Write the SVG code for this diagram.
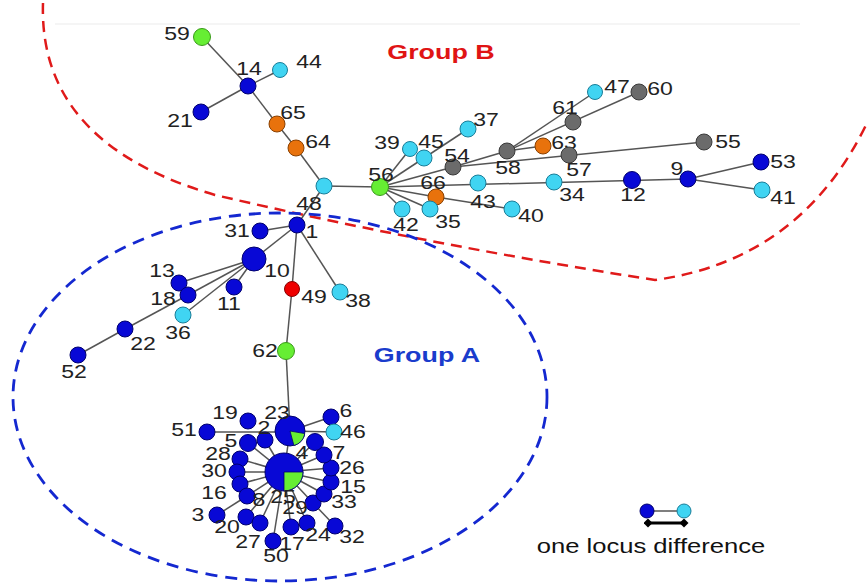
<svg xmlns="http://www.w3.org/2000/svg" width="867" height="586" viewBox="0 0 867 586">
<style>
.e{stroke:#555;stroke-width:1.5;fill:none}
.b{fill:#0808d6;stroke:#00006e;stroke-width:1}
.c{fill:#40d4f2;stroke:#1a7d98;stroke-width:1}
.g{fill:#6b6b6b;stroke:#3a3a3a;stroke-width:1}
.o{fill:#e8720c;stroke:#8a4000;stroke-width:1}
.gr{fill:#66ee33;stroke:#3a9a1a;stroke-width:1}
.r{fill:#ee0000;stroke:#880000;stroke-width:1}
.gw{fill:#66ee33;stroke:#00006e;stroke-width:0.8}
text{font-family:"Liberation Sans",Arial,sans-serif;text-anchor:middle;transform-box:fill-box;transform-origin:center;transform:scaleX(1.28)}
.l{font-size:18px;fill:#222}
.grp{font-size:21px;font-weight:bold}
.lg{font-size:20px;fill:#111}
</style>
<defs>
<marker id="dm" viewBox="0 0 10 10" refX="5" refY="5" markerWidth="3" markerHeight="3" orient="auto"><path d="M0,5 L5,0 L10,5 L5,10 Z" fill="#000"/></marker>
</defs>
<rect width="867" height="586" fill="#fff"/>
<line x1="55" y1="24" x2="800" y2="24" stroke="#f2f2f2" stroke-width="1.5"/>
<g id="groups">
<path d="M43,3 C40,95 95,160 215,195 Q430,245 655,280 Q800,260 866,125" fill="none" stroke="#e01a1a" stroke-width="2.5" stroke-dasharray="11,7"/>
<ellipse cx="280" cy="397" rx="267" ry="184" fill="none" stroke="#1428d0" stroke-width="2.8" stroke-dasharray="12,8"/>
</g>
<g id="connectors">
<line class="e" x1="202" y1="37" x2="248" y2="86"/>
<line class="e" x1="248" y1="86" x2="280" y2="70"/>
<line class="e" x1="248" y1="86" x2="201" y2="112"/>
<line class="e" x1="248" y1="86" x2="277" y2="124"/>
<line class="e" x1="277" y1="124" x2="296" y2="148"/>
<line class="e" x1="296" y1="148" x2="324" y2="186"/>
<line class="e" x1="324" y1="186" x2="380" y2="187"/>
<line class="e" x1="324" y1="186" x2="297" y2="225"/>
<line class="e" x1="380" y1="187" x2="410" y2="149"/>
<line class="e" x1="380" y1="187" x2="468" y2="129"/>
<line class="e" x1="380" y1="187" x2="453" y2="167"/>
<line class="e" x1="453" y1="167" x2="507" y2="151"/>
<line class="e" x1="507" y1="151" x2="595" y2="92"/>
<line class="e" x1="507" y1="151" x2="639" y2="92"/>
<line class="e" x1="507" y1="151" x2="543" y2="146"/>
<line class="e" x1="453" y1="167" x2="704" y2="142"/>
<line class="e" x1="380" y1="187" x2="688" y2="179"/>
<line class="e" x1="688" y1="179" x2="761" y2="162"/>
<line class="e" x1="688" y1="179" x2="762" y2="190"/>
<line class="e" x1="380" y1="187" x2="436" y2="197"/>
<line class="e" x1="436" y1="197" x2="512" y2="209"/>
<line class="e" x1="380" y1="187" x2="430" y2="209"/>
<line class="e" x1="380" y1="187" x2="402" y2="209"/>
<line class="e" x1="297" y1="225" x2="260" y2="231"/>
<line class="e" x1="297" y1="225" x2="254" y2="259"/>
<line class="e" x1="297" y1="225" x2="340" y2="292"/>
<line class="e" x1="297" y1="225" x2="292" y2="289" stroke-width="2"/>
<line class="e" x1="292" y1="289" x2="286" y2="351" stroke-width="2"/>
<line class="e" x1="286" y1="351" x2="290" y2="431"/>
<line class="e" x1="254" y1="259" x2="179" y2="283"/>
<line class="e" x1="254" y1="259" x2="188" y2="295"/>
<line class="e" x1="254" y1="259" x2="234" y2="287"/>
<line class="e" x1="254" y1="259" x2="183" y2="315"/>
<line class="e" x1="188" y1="295" x2="125" y2="329"/>
<line class="e" x1="125" y1="329" x2="78" y2="355"/>
<line class="e" x1="207" y1="432" x2="290" y2="432"/>
<line class="e" x1="290" y1="431" x2="331" y2="417"/>
<line class="e" x1="290" y1="431" x2="334" y2="432"/>
<line class="e" x1="290" y1="431" x2="284" y2="472"/>
<line class="e" x1="284" y1="472" x2="265" y2="440"/>
<line class="e" x1="284" y1="472" x2="248" y2="443"/>
<line class="e" x1="284" y1="472" x2="240" y2="459"/>
<line class="e" x1="284" y1="472" x2="237" y2="472"/>
<line class="e" x1="284" y1="472" x2="240" y2="484"/>
<line class="e" x1="284" y1="472" x2="247" y2="496"/>
<line class="e" x1="284" y1="472" x2="246" y2="517"/>
<line class="e" x1="284" y1="472" x2="260" y2="523"/>
<line class="e" x1="284" y1="472" x2="273" y2="541"/>
<line class="e" x1="284" y1="472" x2="291" y2="527"/>
<line class="e" x1="284" y1="472" x2="307" y2="523"/>
<line class="e" x1="284" y1="472" x2="313" y2="503"/>
<line class="e" x1="284" y1="472" x2="324" y2="494"/>
<line class="e" x1="284" y1="472" x2="331" y2="482"/>
<line class="e" x1="284" y1="472" x2="331" y2="468"/>
<line class="e" x1="284" y1="472" x2="324" y2="455"/>
<line class="e" x1="284" y1="472" x2="315" y2="442"/>
<line class="e" x1="217" y1="515" x2="247" y2="496"/>
<line class="e" x1="335" y1="526" x2="313" y2="503"/>
</g>
<g id="n59"><circle class="gr" cx="202" cy="37" r="8.5"/><text class="l" x="177" y="40">59</text></g>
<g id="n14"><circle class="b" cx="248" cy="86" r="8"/><text class="l" x="249" y="75">14</text></g>
<g id="n44"><circle class="c" cx="280" cy="70" r="7.5"/><text class="l" x="309" y="68">44</text></g>
<g id="n21"><circle class="b" cx="201" cy="112" r="8"/><text class="l" x="180" y="127">21</text></g>
<g id="n65"><circle class="o" cx="277" cy="124" r="8"/><text class="l" x="293" y="119">65</text></g>
<g id="n64"><circle class="o" cx="296" cy="148" r="8"/><text class="l" x="318" y="148">64</text></g>
<g id="n48"><circle class="c" cx="324" cy="186" r="8"/><text class="l" x="309" y="210">48</text></g>
<g id="n56"><circle class="gr" cx="380" cy="187" r="8.5"/><text class="l" x="381" y="181">56</text></g>
<g id="n39"><circle class="c" cx="410" cy="149" r="7.5"/><text class="l" x="387" y="149">39</text></g>
<g id="n45"><circle class="c" cx="424" cy="158" r="8"/><text class="l" x="431" y="148">45</text></g>
<g id="n37"><circle class="c" cx="468" cy="129" r="8"/><text class="l" x="486" y="126">37</text></g>
<g id="n54"><circle class="g" cx="453" cy="167" r="8"/><text class="l" x="457" y="162">54</text></g>
<g id="n58"><circle class="g" cx="507" cy="151" r="8"/><text class="l" x="508" y="174">58</text></g>
<g id="n63"><circle class="o" cx="543" cy="146" r="8"/><text class="l" x="564" y="149">63</text></g>
<g id="n61"><circle class="g" cx="573" cy="122" r="8"/><text class="l" x="565" y="114">61</text></g>
<g id="n47"><circle class="c" cx="595" cy="92" r="7.5"/><text class="l" x="617" y="93">47</text></g>
<g id="n60"><circle class="g" cx="639" cy="92" r="8"/><text class="l" x="660" y="95">60</text></g>
<g id="n57"><circle class="g" cx="569" cy="155" r="8"/><text class="l" x="579" y="176">57</text></g>
<g id="n55"><circle class="g" cx="704" cy="142" r="8"/><text class="l" x="728" y="148">55</text></g>
<g id="n66"><circle class="o" cx="436" cy="197" r="8"/><text class="l" x="433" y="189">66</text></g>
<g id="n43"><circle class="c" cx="478" cy="183" r="8"/><text class="l" x="483" y="208">43</text></g>
<g id="n40"><circle class="c" cx="512" cy="209" r="8"/><text class="l" x="531" y="222">40</text></g>
<g id="n42"><circle class="c" cx="402" cy="209" r="8"/><text class="l" x="406" y="231">42</text></g>
<g id="n35"><circle class="c" cx="430" cy="209" r="8"/><text class="l" x="448" y="228">35</text></g>
<g id="n34"><circle class="c" cx="554" cy="182" r="8"/><text class="l" x="572" y="201">34</text></g>
<g id="n12"><circle class="b" cx="632" cy="180" r="8.5"/><text class="l" x="633" y="201">12</text></g>
<g id="n9"><circle class="b" cx="688" cy="179" r="8"/><text class="l" x="677" y="175">9</text></g>
<g id="n53"><circle class="b" cx="761" cy="162" r="8"/><text class="l" x="783" y="168">53</text></g>
<g id="n41"><circle class="c" cx="762" cy="190" r="8"/><text class="l" x="783" y="204">41</text></g>
<g id="n1"><circle class="b" cx="297" cy="225" r="8"/><text class="l" x="312" y="238">1</text></g>
<g id="n31"><circle class="b" cx="260" cy="231" r="8"/><text class="l" x="237" y="237">31</text></g>
<g id="n10"><circle class="b" cx="254" cy="259" r="12"/><text class="l" x="277" y="277">10</text></g>
<g id="n13"><circle class="b" cx="179" cy="283" r="8"/><text class="l" x="162" y="277">13</text></g>
<g id="n18"><circle class="b" cx="188" cy="295" r="8"/><text class="l" x="163" y="305">18</text></g>
<g id="n11"><circle class="b" cx="234" cy="287" r="8"/><text class="l" x="229" y="310">11</text></g>
<g id="n36"><circle class="c" cx="183" cy="315" r="8"/><text class="l" x="178" y="339">36</text></g>
<g id="n22"><circle class="b" cx="125" cy="329" r="8"/><text class="l" x="143" y="350">22</text></g>
<g id="n52"><circle class="b" cx="78" cy="355" r="8"/><text class="l" x="74" y="378">52</text></g>
<g id="n49"><circle class="r" cx="292" cy="289" r="7.5"/><text class="l" x="314" y="303">49</text></g>
<g id="n38"><circle class="c" cx="340" cy="292" r="8"/><text class="l" x="358" y="307">38</text></g>
<g id="n62"><circle class="gr" cx="286" cy="351" r="8.5"/><text class="l" x="265" y="357">62</text></g>
<g id="n19"><circle class="b" cx="248" cy="421" r="8"/><text class="l" x="225" y="419">19</text></g>
<g id="n51"><circle class="b" cx="207" cy="432" r="8"/><text class="l" x="184" y="436">51</text></g>
<g id="n6"><circle class="b" cx="331" cy="417" r="8"/><text class="l" x="346" y="417">6</text></g>
<g id="n46"><circle class="c" cx="334" cy="432" r="8"/><text class="l" x="353" y="438">46</text></g>
<g id="n2"><circle class="b" cx="265" cy="440" r="8"/><text class="l" x="264" y="434">2</text></g>
<g id="n23"><circle class="b" cx="290" cy="431" r="15"/><path class="gw" d="M290,431 L304.8,433.6 A15,15 0 0 1 293.9,445.5 Z"/><text class="l" x="277" y="419">23</text></g>
<g id="n5"><circle class="b" cx="248" cy="443" r="8.5"/><text class="l" x="231" y="447">5</text></g>
<g id="n28"><circle class="b" cx="240" cy="459" r="8"/><text class="l" x="218" y="460">28</text></g>
<g id="n30"><circle class="b" cx="237" cy="472" r="8"/><text class="l" x="214" y="477">30</text></g>
<g id="n16"><circle class="b" cx="240" cy="484" r="8"/><text class="l" x="214" y="499">16</text></g>
<g id="n8"><circle class="b" cx="247" cy="496" r="8"/><text class="l" x="259" y="506">8</text></g>
<g id="n3"><circle class="b" cx="217" cy="515" r="8"/><text class="l" x="198" y="521">3</text></g>
<g id="n20"><circle class="b" cx="246" cy="517" r="8"/><text class="l" x="227" y="533">20</text></g>
<g id="n27"><circle class="b" cx="260" cy="523" r="8"/><text class="l" x="248" y="548">27</text></g>
<g id="n50"><circle class="b" cx="273" cy="541" r="8"/><text class="l" x="276" y="562">50</text></g>
<g id="n17"><circle class="b" cx="291" cy="527" r="8"/><text class="l" x="292" y="550">17</text></g>
<g id="n24"><circle class="b" cx="307" cy="523" r="8"/><text class="l" x="318" y="541">24</text></g>
<g id="n32"><circle class="b" cx="335" cy="526" r="8"/><text class="l" x="352" y="543">32</text></g>
<g id="n29"><circle class="b" cx="313" cy="503" r="8"/><text class="l" x="295" y="514">29</text></g>
<g id="n33"><circle class="b" cx="324" cy="494" r="8"/><text class="l" x="344" y="508">33</text></g>
<g id="n15"><circle class="b" cx="331" cy="482" r="8"/><text class="l" x="353" y="493">15</text></g>
<g id="n26"><circle class="b" cx="331" cy="468" r="8"/><text class="l" x="352" y="474">26</text></g>
<g id="n7"><circle class="b" cx="324" cy="455" r="8"/><text class="l" x="339" y="459">7</text></g>
<g id="n4"><circle class="b" cx="315" cy="442" r="8.5"/><text class="l" x="302" y="459">4</text></g>
<g id="n25"><circle class="b" cx="284" cy="472" r="19"/><path class="gw" d="M284,472 L303,472 A19,19 0 0 1 284,491 Z"/><text class="l" x="283" y="503">25</text></g>
<text class="grp" x="441" y="59" fill="#e01414">Group B</text>
<text class="grp" x="427" y="362" fill="#1a3ccc">Group A</text>
<g id="legend">
<line x1="647" y1="511" x2="684" y2="511" stroke="#555" stroke-width="1.5"/>
<circle class="b" cx="647" cy="511" r="7"/>
<circle class="c" cx="684" cy="511" r="7"/>
<line x1="648" y1="523" x2="684" y2="523" stroke="#000" stroke-width="3" marker-start="url(#dm)" marker-end="url(#dm)"/>
<text class="lg" x="651" y="553">one locus difference</text>
</g>
</svg>
